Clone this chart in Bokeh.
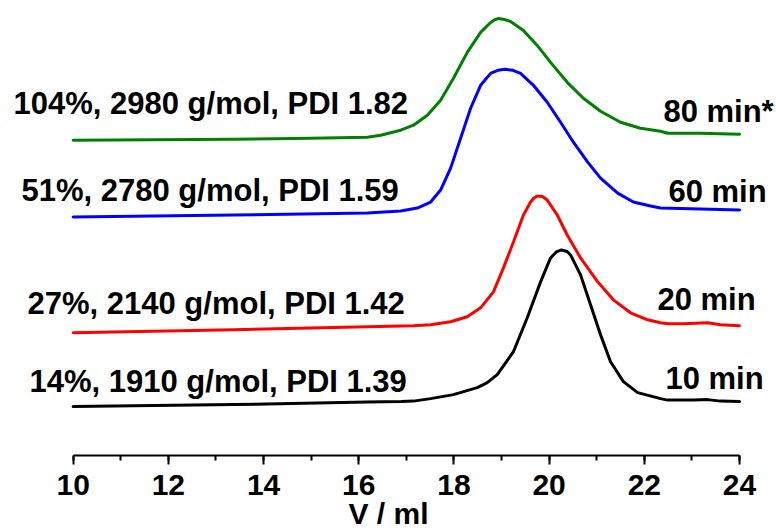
from bokeh.plotting import figure
from bokeh.models import Range1d, ColumnDataSource, SingleIntervalTicker
from bokeh.core.properties import value
from bokeh.embed import file_html
from bokeh.resources import INLINE

# ---- data (elution volume V / ml, detector signal in a.u., curves offset) ----
v_10 = [10.0, 13.37, 16.18, 16.9, 17.15, 17.51, 17.99, 18.49, 18.70, 18.91, 19.25, 19.54,
        19.82, 20.03, 20.15, 20.26, 20.38, 20.45, 20.66, 20.87, 21.08, 21.29, 21.56, 21.86,
        22.34, 22.49, 23.03, 23.33, 23.60, 24.0]
s_10 = [0.51, 0.53, 0.555, 0.56, 0.565, 0.59, 0.63, 0.70, 0.75, 0.83, 1.06, 1.40,
        1.76, 2.00, 2.06, 2.08, 2.065, 2.03, 1.83, 1.53, 1.23, 0.96, 0.76, 0.65,
        0.59, 0.575, 0.575, 0.58, 0.565, 0.56]

v_20 = [10.0, 13.37, 16.18, 17.15, 17.51, 17.93, 18.28, 18.56, 18.83, 19.04, 19.25, 19.46,
        19.61, 19.68, 19.75, 19.86, 19.96, 20.17, 20.38, 20.66, 21.02, 21.35, 21.71, 22.07,
        22.34, 22.49, 22.82, 23.33, 23.60, 24.0]
s_20 = [1.25, 1.28, 1.31, 1.32, 1.33, 1.36, 1.41, 1.50, 1.66, 1.90, 2.16, 2.43,
        2.56, 2.60, 2.62, 2.615, 2.58, 2.43, 2.23, 2.00, 1.76, 1.58, 1.45, 1.38,
        1.35, 1.34, 1.34, 1.35, 1.33, 1.32]

v_60 = [10.0, 13.37, 16.18, 16.88, 17.23, 17.51, 17.72, 17.93, 18.14, 18.35, 18.56, 18.77,
        18.92, 19.08, 19.24, 19.40, 19.67, 19.96, 20.24, 20.51, 20.81, 21.08, 21.44, 21.77,
        22.13, 22.34, 23.18, 24.0]
s_60 = [2.41, 2.43, 2.45, 2.47, 2.50, 2.56, 2.68, 2.90, 3.20, 3.50, 3.73, 3.85,
        3.88, 3.89, 3.88, 3.85, 3.73, 3.56, 3.36, 3.16, 2.96, 2.80, 2.65, 2.56,
        2.52, 2.50, 2.49, 2.48]

v_80 = [10.0, 13.37, 15.0, 16.18, 16.46, 16.88, 17.15, 17.44, 17.72, 17.99, 18.28, 18.56,
        18.77, 18.85, 18.94, 19.06, 19.19, 19.46, 19.75, 20.03, 20.38, 20.72, 21.08, 21.50,
        21.92, 22.34, 22.49, 23.18, 24.0]
s_80 = [3.18, 3.19, 3.20, 3.21, 3.23, 3.28, 3.33, 3.43, 3.58, 3.80, 4.06, 4.26,
        4.36, 4.385, 4.40, 4.39, 4.37, 4.28, 4.13, 3.96, 3.76, 3.60, 3.47, 3.36,
        3.30, 3.27, 3.25, 3.25, 3.24]

info_labels = ["104%, 2980 g/mol, PDI 1.82", "51%, 2780 g/mol, PDI 1.59",
               "27%, 2140 g/mol, PDI 1.42", "14%, 1910 g/mol, PDI 1.39"]
time_labels = ["80 min*", "60 min", "20 min", "10 min"]
x_ticks = [10, 12, 14, 16, 18, 20, 22, 24]
x_title = "V / ml"

# ---- figure ----
FONT = "Liberation Sans, Arial, sans-serif"

p = figure(width=776, height=532, output_backend="svg", toolbar_location=None,
           x_range=Range1d(8.473, 24.777), y_range=Range1d(0.02, 4.58),
           min_border_left=0, min_border_right=0, min_border_top=0, min_border_bottom=76)
p.outline_line_color = None
p.grid.visible = False
p.yaxis.visible = False
p.background_fill_color = "white"
p.border_fill_color = "white"

for xs, ys, col in [(v_10, s_10, "black"), (v_20, s_20, "#ff0000"),
                    (v_60, s_60, "#0000ff"), (v_80, s_80, "#008000")]:
    p.line(xs, ys, line_color=col, line_width=3, line_join="round", line_cap="round")

ax = p.xaxis[0]
ax.bounds = (x_ticks[0], x_ticks[-1])
ax.ticker = SingleIntervalTicker(interval=2, num_minor_ticks=2)
ax.axis_line_width = 2
ax.axis_line_color = "black"
ax.major_tick_line_width = 2
ax.minor_tick_line_width = 2
ax.major_tick_out = 9
ax.major_tick_in = 0
ax.minor_tick_out = 5
ax.minor_tick_in = 0
ax.major_label_standoff = 10
ax.major_label_text_font = FONT
ax.major_label_text_font_style = "bold"
ax.major_label_text_font_size = "30px"
ax.major_label_text_color = "black"
ax.axis_label = x_title
ax.axis_label_standoff = -1
ax.axis_label_text_font = FONT
ax.axis_label_text_font_style = "bold"
ax.axis_label_text_font_size = "30px"
ax.axis_label_text_color = "black"

# left annotation texts
info_src = ColumnDataSource(dict(x=[8.746, 8.914, 9.040, 9.082],
                                 y=[3.55, 2.68, 1.54, 0.76], text=info_labels))
p.text(x="x", y="y", text="text", source=info_src, text_font=value(FONT),
       text_font_style="bold", text_font_size="31px", text_color="black",
       text_align="left", text_baseline="alphabetic")

# right time labels
time_src = ColumnDataSource(dict(x=[22.401, 22.506, 22.275, 22.443],
                                 y=[3.47, 2.67, 1.58, 0.79], text=time_labels))
p.text(x="x", y="y", text="text", source=time_src, text_font=value(FONT),
       text_font_style="bold", text_font_size="31px", text_color="black",
       text_align="left", text_baseline="alphabetic")

open("out.html", "w").write(file_html(p, INLINE))
